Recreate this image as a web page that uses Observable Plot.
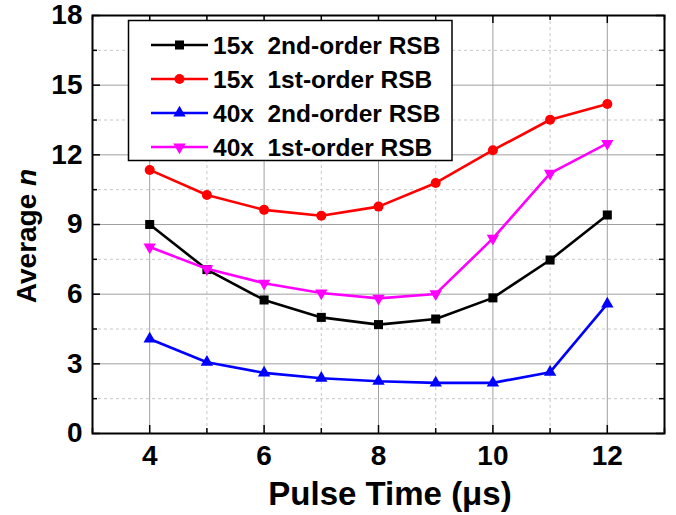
<!DOCTYPE html>
<html>
<head>
<meta charset="utf-8">
<script src="https://cdn.jsdelivr.net/npm/d3@7"></script>
<script src="https://cdn.jsdelivr.net/npm/@observablehq/plot@0.6"></script>
<style>
  html, body { margin: 0; padding: 0; background: #fff; }
</style>
</head>
<body>
<div id="chart"></div>
<script>
// ---- data ----
const times = [4, 5, 6, 7, 8, 9, 10, 11, 12];
const s15x2nd = [9.0, 7.06, 5.75, 5.0, 4.69, 4.93, 5.84, 7.47, 9.41];
const s15x1st = [11.35, 10.27, 9.63, 9.38, 9.77, 10.79, 12.2, 13.51, 14.19];
const s40x2nd = [4.07, 3.07, 2.61, 2.38, 2.25, 2.18, 2.18, 2.64, 5.58];
const s40x1st = [8.03, 7.09, 6.47, 6.05, 5.82, 6.01, 8.4, 11.2, 12.49];
const seriesNames = ["15x  2nd-order RSB", "15x  1st-order RSB", "40x  2nd-order RSB", "40x  1st-order RSB"];
const xMajor = [4, 6, 8, 10, 12];
const xMinor = [3, 5, 7, 9, 11, 13];
const yMajor = [0, 3, 6, 9, 12, 15, 18];
const yMinor = [1.5, 4.5, 7.5, 10.5, 13.5, 16.5];
const xTitle = "Pulse Time (\u03bcs)";
const yTitle = ["Average ", "n"];

// ---- styles ----
const colors = ["#000000", "#ff0000", "#0000ff", "#ff00ff"];
const symbols = ["square", "circle", "triangle", "triangle"];
const rotations = [0, 0, 0, 180];
const radii = [5.1, 5, 4.6, 4.6];
const W = 676, H = 515, mL = 92, mR = 12, mT = 15, mB = 82;
const plotW = W - mL - mR, plotH = H - mT - mB;
const font = "'Liberation Sans', Arial, Helvetica, sans-serif";
const tickFont = 28;

const allSeries = [s15x2nd, s15x1st, s40x2nd, s40x1st];
const rows = [];
allSeries.forEach((vals, si) => times.forEach((t, i) => rows.push({t, v: vals[i], s: si})));

const marks = [
  Plot.ruleX(xMinor.filter(d => d > 3 && d < 13), {stroke: "#c8c8c8", strokeWidth: 1, strokeDasharray: "3,3"}),
  Plot.ruleY(yMinor, {stroke: "#c8c8c8", strokeWidth: 1, strokeDasharray: "3,3"}),
  Plot.ruleX(xMajor, {stroke: "#a0a0a0", strokeWidth: 1}),
  Plot.ruleY(yMajor.filter(d => d > 0 && d < 18), {stroke: "#a0a0a0", strokeWidth: 1}),
  // inward ticks
  Plot.ruleX(xMajor, {stroke: "#000", strokeWidth: 1.5, insetTop: plotH - 8}),
  Plot.ruleX(xMajor, {stroke: "#000", strokeWidth: 1.5, insetBottom: plotH - 8}),
  Plot.ruleX(xMinor, {stroke: "#000", strokeWidth: 1.5, insetTop: plotH - 5}),
  Plot.ruleX(xMinor, {stroke: "#000", strokeWidth: 1.5, insetBottom: plotH - 5}),
  Plot.ruleY(yMajor, {stroke: "#000", strokeWidth: 1.5, insetRight: plotW - 8}),
  Plot.ruleY(yMajor, {stroke: "#000", strokeWidth: 1.5, insetLeft: plotW - 8}),
  Plot.ruleY(yMinor, {stroke: "#000", strokeWidth: 1.5, insetRight: plotW - 5}),
  Plot.ruleY(yMinor, {stroke: "#000", strokeWidth: 1.5, insetLeft: plotW - 5}),
  // tick labels
  Plot.text(xMajor, {x: d => d, frameAnchor: "bottom", lineAnchor: "top", dy: 12, text: d => String(d),
    fontSize: tickFont, fontWeight: "bold", fill: "#000"}),
  Plot.text(yMajor, {y: d => d, frameAnchor: "left", textAnchor: "end", lineAnchor: "middle", dx: -10, text: d => String(d),
    fontSize: tickFont, fontWeight: "bold", fill: "#000"}),
  Plot.frame({stroke: "#000", strokeWidth: 2})
];
allSeries.forEach((vals, si) => {
  const data = rows.filter(r => r.s === si);
  marks.push(Plot.line(data, {x: "t", y: "v", stroke: colors[si], strokeWidth: 2.6}));
  marks.push(Plot.dot(data, {x: "t", y: "v", symbol: symbols[si], fill: colors[si], stroke: "none", r: radii[si], rotate: rotations[si]}));
});

const svgEl = Plot.plot({
  width: W, height: H,
  marginLeft: mL, marginRight: mR, marginTop: mT, marginBottom: mB,
  x: {domain: [3, 13], axis: null},
  y: {domain: [0, 18], axis: null},
  style: {fontFamily: font, fontWeight: "bold", color: "#000", background: "#fff"},
  marks
});
document.getElementById("chart").appendChild(svgEl);

const svg = d3.select(svgEl);
// axis titles
svg.append("text")
  .attr("x", 390).attr("y", 505)
  .attr("text-anchor", "middle")
  .attr("font-family", font).attr("font-weight", "bold").attr("font-size", 33)
  .attr("fill", "#000")
  .text(xTitle);
const yt = svg.append("text")
  .attr("transform", "translate(36,236) rotate(-90)")
  .attr("text-anchor", "middle")
  .attr("font-family", font).attr("font-weight", "bold").attr("font-size", 28)
  .attr("fill", "#000")
  .style("white-space", "pre");
yt.append("tspan").text(yTitle[0]);
yt.append("tspan").attr("font-style", "italic").text(yTitle[1]);

// legend
const lg = svg.append("g");
lg.append("rect").attr("x", 128.5).attr("y", 20.5).attr("width", 323.5).attr("height", 140)
  .attr("fill", "#fff").attr("stroke", "#000").attr("stroke-width", 1.5);
const rowY = [45, 79, 113, 147];
const symMap = {square: d3.symbolSquare, circle: d3.symbolCircle, triangle: d3.symbolTriangle};
seriesNames.forEach((name, i) => {
  const y = rowY[i];
  lg.append("line").attr("x1", 151).attr("x2", 208).attr("y1", y).attr("y2", y)
    .attr("stroke", colors[i]).attr("stroke-width", 2.6);
  lg.append("path")
    .attr("d", d3.symbol(symMap[symbols[i]], Math.PI * radii[i] * radii[i])())
    .attr("transform", `translate(179.5,${y}) rotate(${rotations[i]})`)
    .attr("fill", colors[i]);
  lg.append("text").attr("x", 213).attr("y", y).attr("dy", "0.36em")
    .attr("text-anchor", "start")
    .attr("font-family", font).attr("font-weight", "bold").attr("font-size", 24.5)
    .attr("fill", "#000").style("white-space", "pre")
    .text(name);
});
</script>
</body>
</html>
